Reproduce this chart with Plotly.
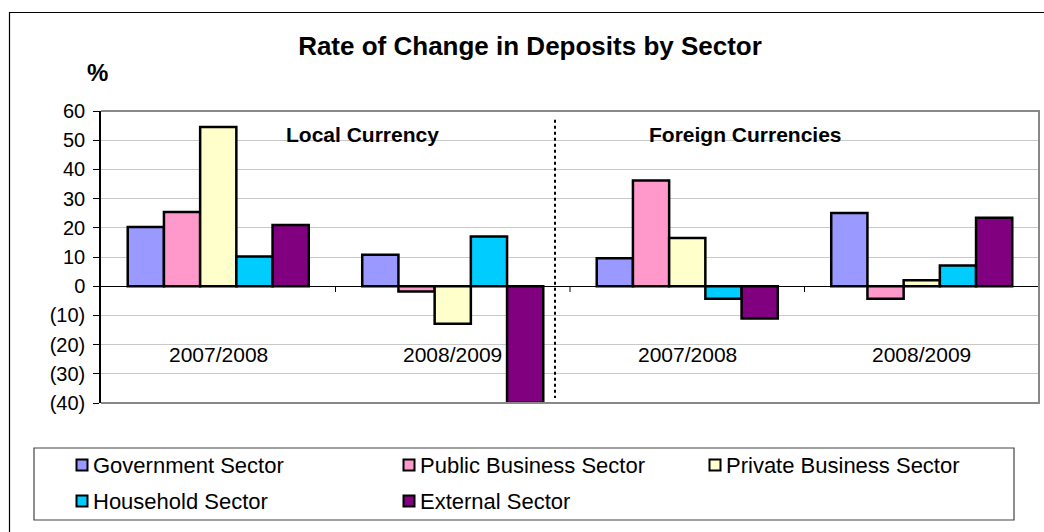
import plotly.graph_objects as go

# Data: rate of change (%) in deposits by sector
groups = ["Local Currency", "Foreign Currencies"]
periods = ["2007/2008", "2008/2009", "2007/2008", "2008/2009"]
sectors = ["Government Sector", "Public Business Sector", "Private Business Sector",
           "Household Sector", "External Sector"]
government = [20.3, 10.8, 9.6, 25.1]
public_business = [25.4, -1.8, 36.2, -4.3]
private_business = [54.5, -12.9, 16.5, 2.0]
household = [10.2, 17.0, -4.3, 7.1]
external = [21.0, -40.0, -11.1, 23.4]
series_values = [government, public_business, private_business, household, external]
colors = ["#9999FF", "#FF99CC", "#FFFFCC", "#00CCFF", "#800080"]

y_ticks = [60, 50, 40, 30, 20, 10, 0, -10, -20, -30, -40]
y_tick_labels = ["60", "50", "40", "30", "20", "10", "0", "(10)", "(20)", "(30)", "(40)"]

FONT = "Liberation Sans, Arial, sans-serif"
W, H = 1044, 532
L, R, T, B = 101, 5, 111, 129
PW, PH = W - L - R, H - T - B


def px(x):
    return (x - L) / PW


def py(y):
    return (H - B - y) / PH


x_pos = list(range(len(periods)))

fig = go.Figure()
for name, vals, col in zip(sectors, series_values, colors):
    fig.add_trace(go.Bar(
        x=x_pos, y=vals, name=name, showlegend=False,
        marker=dict(color=col, line=dict(color="black", width=2.5)),
    ))

shapes = []
annotations = []

# Outer chart frame
shapes.append(dict(type="rect", xref="paper", yref="paper",
                   x0=px(9.5), x1=px(1060), y0=py(12.5), y1=py(545),
                   line=dict(color="black", width=1.2), layer="below"))
# Plot area frame (top, right, bottom in gray)
shapes.append(dict(type="path", xref="paper", yref="paper",
                   path="M 0 1 L 1 1 L 1 0 L 0 0",
                   line=dict(color="#888888", width=2)))

# Category tick marks on the zero line
for i in range(len(periods) - 1):
    shapes.append(dict(type="line", xref="x", yref="y",
                       x0=i + 0.5, x1=i + 0.5, y0=0, y1=-2,
                       line=dict(color="black", width=1)))

# Dotted separator between currency groups
shapes.append(dict(type="line", xref="x", yref="y",
                   x0=1.436, x1=1.436, y0=57, y1=-38.3,
                   line=dict(color="black", width=2, dash="dot")))

# Period labels inside the plot
for i, p in enumerate(periods):
    annotations.append(dict(x=i, y=-23.3, xref="x", yref="y", text=p,
                            xanchor="center", yanchor="middle",
                            showarrow=False, font=dict(family=FONT, size=21, color="black")))

# Group headers
for gx, g in zip([0.615, 2.248], groups):
    annotations.append(dict(x=gx, y=51.8, xref="x", yref="y", text=f"<b>{g}</b>",
                            xanchor="center", yanchor="middle",
                            showarrow=False, font=dict(family=FONT, size=21, color="black")))

# Unit label
annotations.append(dict(x=px(97), y=py(72), xref="paper", yref="paper", text="<b>%</b>",
                        xanchor="center", yanchor="middle",
                        showarrow=False, font=dict(family=FONT, size=24, color="black")))

# Legend box and entries
shapes.append(dict(type="rect", xref="paper", yref="paper",
                   x0=px(34), x1=px(1014), y0=py(448), y1=py(520),
                   line=dict(color="#444444", width=1.2), fillcolor="white"))
legend_pos = [(82, 465), (409, 465), (715, 465), (82, 501), (409, 501)]
for (cx, cy), name, col in zip(legend_pos, sectors, colors):
    shapes.append(dict(type="rect", xref="paper", yref="paper",
                       x0=px(cx - 5.5), x1=px(cx + 5.5), y0=py(cy - 5.5), y1=py(cy + 5.5),
                       line=dict(color="black", width=2), fillcolor=col))
    annotations.append(dict(x=px(cx + 9), y=py(cy), xref="paper", yref="paper",
                            text=name, showarrow=False, xanchor="left", yanchor="middle",
                            font=dict(family=FONT, size=22, color="black")))

fig.update_layout(
    width=W, height=H,
    margin=dict(l=L, r=R, t=T, b=B),
    paper_bgcolor="white", plot_bgcolor="white",
    barmode="group", bargap=0.228, bargroupgap=0,
    title=dict(text="<b>Rate of Change in Deposits by Sector</b>",
               xref="container", yref="container",
               x=530 / W, xanchor="center", y=1 - 46 / H, yanchor="middle",
               font=dict(family=FONT, size=26, color="black")),
    xaxis=dict(range=[-0.5, len(periods) - 0.5], showticklabels=False, showgrid=False,
               zeroline=False, showline=False, ticks=""),
    yaxis=dict(range=[-40, 60], tickvals=y_ticks, ticktext=y_tick_labels,
               showgrid=True, gridcolor="#C8C8C8", gridwidth=1,
               zeroline=True, zerolinecolor="black", zerolinewidth=1,
               showline=True, linecolor="black", linewidth=1.5,
               ticks="outside", ticklen=6, tickcolor="black", ticklabelstandoff=4,
               tickfont=dict(family=FONT, size=20, color="black")),
    shapes=shapes, annotations=annotations,
    showlegend=False,
)

fig.write_html("out.html")
